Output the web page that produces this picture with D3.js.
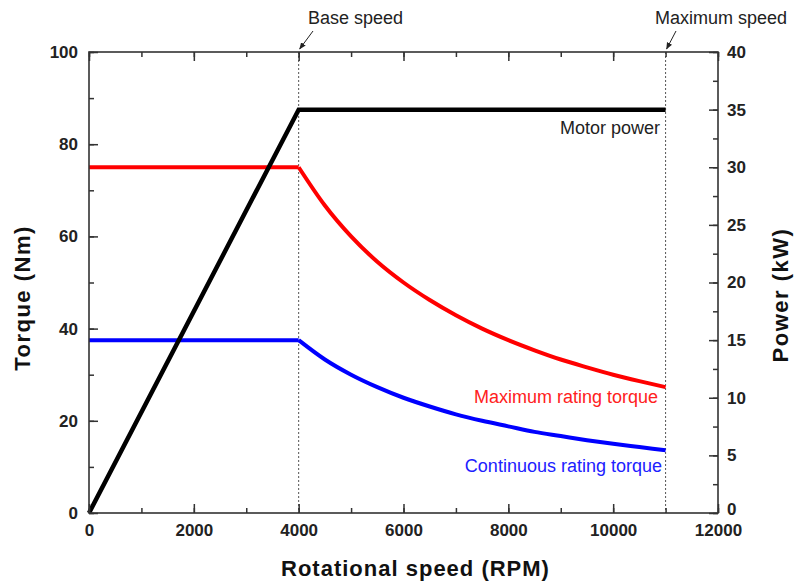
<!DOCTYPE html>
<html><head><meta charset="utf-8">
<script src="https://cdn.jsdelivr.net/npm/d3@7"></script>
<style>body{margin:0;background:#fff}svg{display:block}text{font-family:Arial,"Liberation Sans",sans-serif}</style>
</head><body><div id="chart"></div>
<script>
// Data
const speed = [0, 4000, 4500, 5000, 5500, 6000, 6500, 7000, 7500, 8000, 8500, 9000, 9500, 10000, 10500, 11000];
const maxTorque = [75, 75, 66.7, 60, 54.5, 50, 46.2, 42.9, 40, 37.5, 35.3, 33.3, 31.6, 30, 28.6, 27.3];
const contTorque = [37.5, 37.5, 33.3, 30, 27.3, 25, 23.1, 21.4, 20, 18.8, 17.6, 16.7, 15.8, 15, 14.3, 13.6];
const powerSpeed = [0, 4000, 11000];
const motorPower = [0, 35, 35];
const xTicks = [0, 2000, 4000, 6000, 8000, 10000, 12000];
const yLeftTicks = [0, 20, 40, 60, 80, 100];
const yRightTicks = [0, 5, 10, 15, 20, 25, 30, 35, 40];
const markers = [{x: 4000, label: "Base speed"}, {x: 11000, label: "Maximum speed"}];

const W = 794, H = 582;
const L = 89, R = 718, T = 52, B = 513;
const svg = d3.select("#chart").append("svg").attr("width", W).attr("height", H);
const x = d3.scaleLinear().domain([0, 12000]).range([L, R]);
const yL = d3.scaleLinear().domain([0, 100]).range([B, T]);
const yR = d3.scaleLinear().domain([0, 40]).range([B, T]);
const axisColor = "#333";

// marker dotted lines
markers.forEach(m => {
  svg.append("line").attr("x1", x(m.x)).attr("x2", x(m.x)).attr("y1", T).attr("y2", B)
    .attr("stroke", "#555").attr("stroke-width", 1).attr("stroke-dasharray", "2,2");
});

// data lines: flat part (linear) + decaying part (smooth)
function drawTorque(vals, color) {
  const pts = speed.map((s, i) => [s, vals[i]]);
  const flat = pts.filter(p => p[0] <= 4000);
  const decay = pts.filter(p => p[0] >= 4000);
  const lin = d3.line().x(d => x(d[0])).y(d => yL(d[1]));
  const smooth = d3.line().x(d => x(d[0])).y(d => yL(d[1])).curve(d3.curveMonotoneX);
  svg.append("path").attr("d", lin(flat)).attr("fill", "none").attr("stroke", color).attr("stroke-width", 4);
  svg.append("path").attr("d", smooth(decay)).attr("fill", "none").attr("stroke", color).attr("stroke-width", 4);
}
drawTorque(maxTorque, "#ff0000");
drawTorque(contTorque, "#0000ff");
const lineP = d3.line().x((d, i) => x(powerSpeed[i])).y(d => yR(d));
svg.append("path").datum(motorPower).attr("d", lineP).attr("fill", "none").attr("stroke", "#000").attr("stroke-width", 4.5).attr("stroke-linejoin", "miter");

// axes
function styleAxis(g) {
  g.select(".domain").remove();
  g.selectAll("line").attr("stroke", axisColor).attr("stroke-width", 1.5);
  g.selectAll("text").attr("font-size", 17).attr("font-weight", "bold").attr("fill", "#222");
}
const xMinor = d3.range(0, 12001, 1000);
svg.append("g").attr("transform", `translate(0,${B})`)
  .call(d3.axisBottom(x).tickValues(xMinor).tickSize(-5).tickFormat("")).call(styleAxis);
svg.append("g").attr("transform", `translate(0,${B})`)
  .call(d3.axisBottom(x).tickValues(xTicks).tickSize(-9).tickPadding(11).tickFormat(d3.format("d"))).call(styleAxis);
svg.append("g").attr("transform", `translate(0,${T})`)
  .call(d3.axisTop(x).tickValues(xMinor).tickSize(-5).tickFormat("")).call(styleAxis);
svg.append("g").attr("transform", `translate(0,${T})`)
  .call(d3.axisTop(x).tickValues(xTicks).tickSize(-9).tickFormat("")).call(styleAxis);
svg.append("g").attr("transform", `translate(${L},0)`)
  .call(d3.axisLeft(yL).tickValues(d3.range(0, 101, 10)).tickSize(-5).tickFormat("")).call(styleAxis);
svg.append("g").attr("transform", `translate(${L},0)`)
  .call(d3.axisLeft(yL).tickValues(yLeftTicks).tickSize(-9).tickPadding(11).tickFormat(d3.format("d"))).call(styleAxis);
svg.append("g").attr("transform", `translate(${R},0)`)
  .call(d3.axisRight(yR).tickValues(d3.range(0, 40.1, 2.5)).tickSize(-5).tickFormat("")).call(styleAxis);
const rightAx = svg.append("g").attr("transform", `translate(${R},0)`)
  .call(d3.axisRight(yR).tickValues(yRightTicks).tickSize(-9).tickPadding(9).tickFormat(d3.format("d"))).call(styleAxis);
// nudge the right-axis "0" up slightly so it clears the "12000" label, as in the reference
rightAx.selectAll(".tick").filter(d => d === 0).select("text").attr("dy", "0.1em");

// frame
svg.append("rect").attr("x", L).attr("y", T).attr("width", R - L).attr("height", B - T)
  .attr("fill", "none").attr("stroke", axisColor).attr("stroke-width", 1.6);

// axis titles
svg.append("text").attr("x", (L + R) / 2 + 12).attr("y", 576).attr("text-anchor", "middle")
  .attr("font-size", 22).attr("font-weight", "bold").attr("letter-spacing", 1).attr("fill", "#111").text("Rotational speed (RPM)");
svg.append("text").attr("transform", "translate(30,298) rotate(-90)").attr("text-anchor", "middle")
  .attr("font-size", 22).attr("font-weight", "bold").attr("letter-spacing", 1.5).attr("fill", "#111").text("Torque (Nm)");
svg.append("text").attr("transform", "translate(788,295) rotate(-90)").attr("text-anchor", "middle")
  .attr("font-size", 22).attr("font-weight", "bold").attr("letter-spacing", 1.5).attr("fill", "#111").text("Power (kW)");

// series labels
svg.append("text").attr("x", 660).attr("y", 134).attr("text-anchor", "end").attr("font-size", 18).attr("fill", "#222").text("Motor power");
svg.append("text").attr("x", 658).attr("y", 403).attr("text-anchor", "end").attr("font-size", 18).attr("fill", "#ff2020").text("Maximum rating torque");
svg.append("text").attr("x", 662).attr("y", 472).attr("text-anchor", "end").attr("font-size", 18).attr("fill", "#2020ff").text("Continuous rating torque");

// marker annotations with arrows
svg.append("defs").append("marker").attr("id", "arr").attr("viewBox", "0 0 10 10").attr("refX", 9).attr("refY", 5)
  .attr("markerWidth", 7).attr("markerHeight", 7).attr("orient", "auto")
  .append("path").attr("d", "M0,1 L10,5 L0,9 Z").attr("fill", "#222");
const ann = [{x: 4000, tx: 308, ty: 24, ax: 313}, {x: 11000, tx: 655, ty: 24, ax: 676}];
ann.forEach((a, i) => {
  svg.append("text").attr("x", a.tx).attr("y", a.ty).attr("font-size", 18).attr("fill", "#222").text(markers[i].label);
  svg.append("line").attr("x1", a.ax).attr("y1", 31).attr("x2", x(a.x) + 1).attr("y2", 49)
    .attr("stroke", "#222").attr("stroke-width", 1).attr("marker-end", "url(#arr)");
});
</script></body></html>
